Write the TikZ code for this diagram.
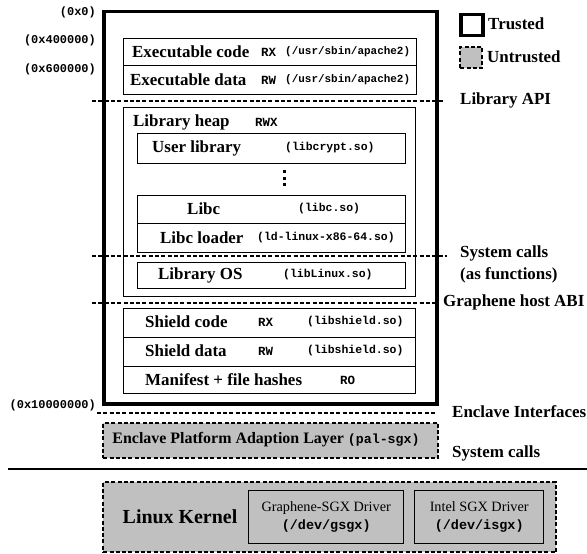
\documentclass[tikz,border=0pt]{standalone}
\usepackage{fontspec}
\setmainfont{Liberation Serif}
\setmonofont{Liberation Mono}
\usepackage{tikz}
\usetikzlibrary{positioning}
\definecolor{untr}{HTML}{C0C0C0}
\newcommand{\fsz}[1]{\fontsize{#1}{#1}\selectfont}

\begin{document}
\begin{tikzpicture}[
  x=1bp, y=-1bp,
  box/.style 2 args={
    draw, line width=1.4bp,
    minimum width=#1bp, minimum height=#2bp,
    anchor=north west, inner sep=0pt},
  ubox/.style 2 args={
    box={#1}{#2}, fill=untr, line width=2.4bp,
    dash pattern=on 4bp off 2.3bp},
  divider/.style={line width=2.6bp, dash pattern=on 4bp off 2.3bp},
  txt/.style={font=\fsz{17}\bfseries, inner sep=0pt, anchor=west},
  perm/.style={font=\fsz{12.5}\ttfamily\bfseries, inner sep=0pt, anchor=west},
  file/.style={font=\fsz{11.5}\ttfamily\bfseries, inner sep=0pt, anchor=west},
  addr/.style={font=\fsz{12}\ttfamily\bfseries, inner sep=0pt, anchor=east},
]
  \useasboundingbox (0,0) rectangle (587,554);

  % Enclave
  \node[box={333}{392}, line width=3.5bp] (encl) at (102,10) {};
  \foreach \a/\y in {0x0/12, 0x400000/40, 0x600000/69, 0x10000000/405} {
    \node[addr] (addr_\a) at (96,\y) {(\a)};
  }

  % Executable
  \node[box={293}{27}] (exe_code) at (123,38) {};
  \node[box={293}{29}] (exe_data) at (123,65) {};
  \node[txt] (exe_code_t) at (132,52) {Executable code};
  \node[perm] (exe_code_p) at (261,52) {RX};
  \node[file, font=\fsz{11}\ttfamily\bfseries] (exe_code_f) at (285,52) {(/usr/sbin/apache2)};
  \node[txt] (exe_data_t) at (130,80) {Executable data};
  \node[perm] (exe_data_p) at (261,80) {RW};
  \node[file, font=\fsz{11}\ttfamily\bfseries] (exe_data_f) at (285,80) {(/usr/sbin/apache2)};

  % Library heap
  \node[box={292}{189}] (heap) at (123,107) {};
  \node[txt] (heap_t) at (133,122) {Library heap};
  \node[perm] (heap_p) at (255,122) {RWX};

  \node[box={268}{30}] (ulib) at (137,133) {};
  \node[txt] (ulib_t) at (152,148) {User library};
  \node[file] (ulib_f) at (285,148) {(libcrypt.so)};

  % more libraries
  \foreach \d in {172,179,185} {
    \fill (282.5,{\d-1.5}) rectangle ++(3,3);
  }

  \node[box={268}{28}] (libc) at (137,195) {};
  \node[box={268}{29}] (ldso) at (137,223) {};
  \node[txt] (libc_t) at (187,209) {Libc};
  \node[file] (libc_f) at (298,209) {(libc.so)};
  \node[txt] (ldso_t) at (160,238) {Libc loader};
  \node[file] (ldso_f) at (257,238) {(ld-linux-x86-64.so)};

  \node[box={268}{26}] (libos) at (137,262) {};
  \node[txt] (libos_t) at (158,275) {Library OS};
  \node[file] (libos_f) at (283,275) {(libLinux.so)};

  % Shield
  \node[box={292}{29}] (sh_code) at (123,308) {};
  \node[box={292}{29}] (sh_data) at (123,337) {};
  \node[box={292}{27}] (manif) at (123,366) {};
  \node[txt] (sh_code_t) at (145,322) {Shield code};
  \node[perm] (sh_code_p) at (258,322) {RX};
  \node[file] (sh_code_f) at (307,322) {(libshield.so)};
  \node[txt] (sh_data_t) at (145,351) {Shield data};
  \node[perm] (sh_data_p) at (258,351) {RW};
  \node[file] (sh_data_f) at (307,351) {(libshield.so)};
  \node[txt] (manif_t) at (145,380) {Manifest + file hashes};
  \node[perm] (manif_p) at (340,380) {RO};

  % Interfaces
  \draw[divider] (92,101) -- (443,101);
  \draw[divider] (92,256) -- (447,256);
  \draw[divider] (92,303) -- (438,303);
  \draw[divider] (97,413) -- (437,413);

  \node[txt] (api) at (460,100) {Library API};
  \node[txt, align=left, font=\fontsize{17}{22}\selectfont\bfseries] (sysfn) at (460,264)
    {System calls\\(as functions)};
  \node[txt] (hostabi) at (443,302) {Graphene host ABI};
  \node[txt] (encif) at (452,412) {Enclave Interfaces};
  \node[txt] (sysc) at (452,453) {System calls};

  % PAL
  \node[ubox={335}{35}] (pal) at (102,422) {};
  \node[inner sep=0pt, font=\fsz{16}\bfseries] (pal_t) at (266,440)
    {Enclave Platform Adaption Layer \texttt{\fsz{13.3}(pal-sgx)}};

  \draw[line width=2.5bp] (8,469) -- (587,469);

  % Kernel
  \node[ubox={453}{70}] (kern) at (102,481) {};
  \node[inner sep=0pt, font=\fsz{20}\bfseries] (kern_t) at (180,517) {Linux Kernel};
  \node[box={155}{53}, fill=untr] (gdrv) at (248,490) {};
  \node[box={129}{53}, fill=untr] (idrv) at (414,490) {};
  \node[align=center, inner sep=0pt, font=\fontsize{14.3}{18}\selectfont] (gdrv_t) at (gdrv.center)
    {Graphene-SGX Driver\\\texttt{\bfseries\fontsize{13.5}{18}\selectfont(/dev/gsgx)}};
  \node[align=center, inner sep=0pt, font=\fontsize{14.3}{18}\selectfont] (idrv_t) at (idrv.center)
    {Intel SGX Driver\\\texttt{\bfseries\fontsize{13.5}{18}\selectfont(/dev/isgx)}};

  % Legend
  \node[box={22}{21}, line width=3.5bp] (lg_tr) at (459,13) {};
  \node[txt] (lg_tr_t) at (488,24) {Trusted};
  \node[ubox={22}{21}] (lg_un) at (459,46) {};
  \node[txt] (lg_un_t) at (487,57) {Untrusted};
\end{tikzpicture}
\end{document}
